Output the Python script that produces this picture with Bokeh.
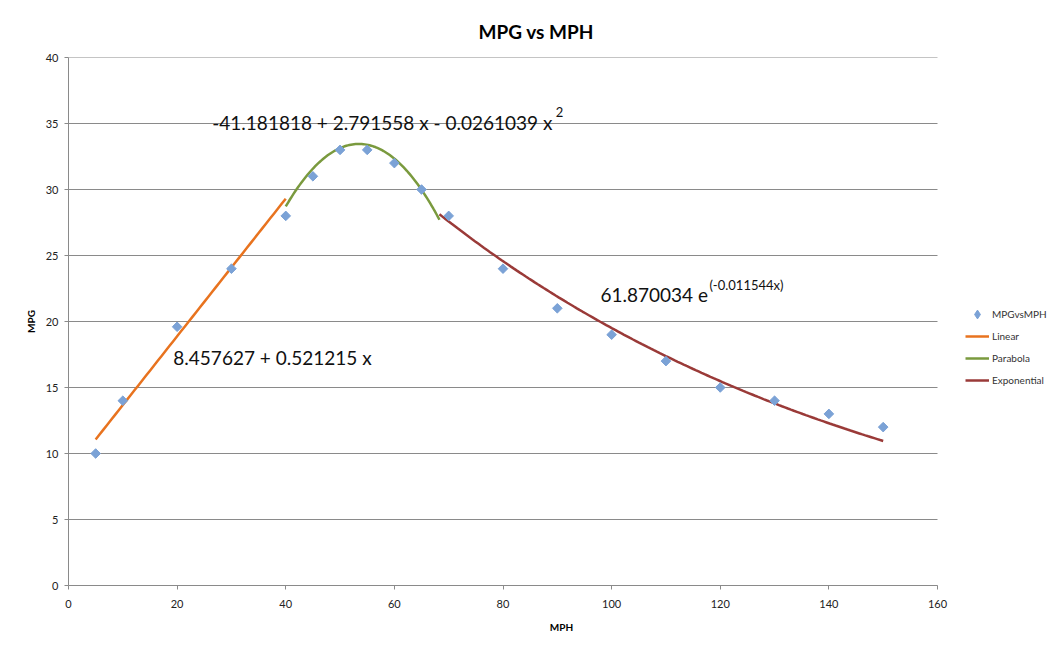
import numpy as np
from bokeh.plotting import figure
from bokeh.models import ColumnDataSource, Label, Legend, LegendItem, Title
from bokeh.embed import file_html
from bokeh.resources import INLINE

# ---- data ----
mph = [5, 10, 20, 30, 40, 45, 50, 55, 60, 65, 70, 80, 90, 100, 110, 120, 130, 140, 150]
mpg = [10, 14, 19.6, 24, 28, 31, 33, 33, 32, 30, 28, 24, 21, 19, 17, 15, 14, 13, 12]

# trendline coefficients (as printed on chart) and their x-ranges
linear_coef = [8.457627, 0.521215]
linear_range = [5, 40]
parab_coef = [-41.181818, 2.791558, -0.0261039]
parab_range = [40, 68.3]
exp_coef = [61.870034, -0.011544]
exp_range = [68.3, 150]

x_ticks = [0, 20, 40, 60, 80, 100, 120, 140, 160]
y_ticks = [0, 5, 10, 15, 20, 25, 30, 35, 40]
x_axis_bounds = (0, 160)

# ---- curves from the printed fit equations ----
xl = np.linspace(linear_range[0], linear_range[1], 50)
yl = linear_coef[0] + linear_coef[1] * xl
xp = np.linspace(parab_range[0], parab_range[1], 100)
yp = parab_coef[0] + parab_coef[1] * xp + parab_coef[2] * xp ** 2
xe = np.linspace(exp_range[0], exp_range[1], 150)
ye = exp_coef[0] * np.exp(exp_coef[1] * xe)

FONT = "Lato"
GRAY = "#8a8a8a"
PT_COLOR = "#7BA2D6"

W, H = 1054, 647
LEFT, RIGHT_AXIS_END = 68, 937
# extend the frame to the right edge so the legend (drawn inside the frame) is visible;
# the axis itself is bounded to 0..160
x_end = x_axis_bounds[1] * (W - LEFT) / (RIGHT_AXIS_END - LEFT)

p = figure(width=W, height=H, output_backend="svg", toolbar_location=None,
           x_range=(0, x_end), y_range=(0, 40),
           min_border_left=LEFT, min_border_right=0, min_border_top=57, min_border_bottom=62,
           outline_line_color=None, background_fill_color="white", border_fill_color="white")

title = Title(text="MPG vs MPH", align="left", offset=410, text_font=FONT,
              text_font_size="19px", text_font_style="bold", text_color="#000000", standoff=30)
p.add_layout(title, "above")

# axes
for ax in (p.xaxis[0], p.yaxis[0]):
    ax.axis_line_color = GRAY
    ax.major_tick_line_color = GRAY
    ax.major_tick_out = 4
    ax.major_tick_in = 0
    ax.minor_tick_line_color = None
    ax.major_label_text_font = FONT
    ax.major_label_text_font_size = "11px"
    ax.major_label_text_color = "#222222"
    ax.axis_label_text_font = FONT
    ax.axis_label_text_font_size = "10px"
    ax.axis_label_text_font_style = "bold"
    ax.axis_label_text_color = "#000000"

p.xaxis.ticker = x_ticks
p.yaxis.ticker = y_ticks
p.xaxis.bounds = x_axis_bounds
p.xaxis.axis_label = "MPH"
p.yaxis.axis_label = "MPG"
p.xaxis.major_label_standoff = 10
p.yaxis.major_label_standoff = 6
p.xaxis.axis_label_standoff = 10
p.yaxis.axis_label_standoff = 6

p.xgrid.grid_line_color = None
p.ygrid.grid_line_color = None

# horizontal gridlines limited to the axis extent
p.segment(x0=[x_axis_bounds[0]] * len(y_ticks), x1=[x_axis_bounds[1]] * len(y_ticks),
          y0=y_ticks, y1=y_ticks, line_color=GRAY, line_width=1)

src = ColumnDataSource(dict(x=mph, y=mpg))
r_lin = p.line(xl, yl, line_color="#E8731F", line_width=2.5)
r_par = p.line(xp, yp, line_color="#7A9A3E", line_width=2.5)
r_exp = p.line(xe, ye, line_color="#9A3A38", line_width=2.5)
# diamond-marker copy of the points (hidden beneath the rotated squares), used as legend key
r_pts_key = p.scatter("x", "y", source=src, marker="diamond", size=8,
                      fill_color=PT_COLOR, line_color=PT_COLOR)
r_pts = p.scatter("x", "y", source=src, marker="square", angle=np.pi / 4, size=6.8,
                  fill_color=PT_COLOR, line_color=PT_COLOR)

legend = Legend(items=[LegendItem(label="MPGvsMPH", renderers=[r_pts_key]),
                       LegendItem(label="Linear", renderers=[r_lin]),
                       LegendItem(label="Parabola", renderers=[r_par]),
                       LegendItem(label="Exponential", renderers=[r_exp])],
                location=(897, 194), orientation="vertical",
                glyph_width=24, glyph_height=22, label_height=22, spacing=0,
                label_standoff=3, padding=0, margin=0,
                border_line_color=None, background_fill_alpha=0,
                label_text_font=FONT, label_text_font_size="10px", label_text_color="#333333")
p.add_layout(legend)

# equation labels (positions in data units)
def lab(x, y, text, size, align="left"):
    p.add_layout(Label(x=x, y=y, text=text, text_font=FONT, text_font_size=size,
                       text_color="#111111", text_baseline="alphabetic", text_align=align))

lab(19.3, 17.3, "8.457627 + 0.521215 x", "19px")
lab(89.1, 35.05, "-41.181818 + 2.791558 x - 0.0261039 x", "19px", "right")
lab(89.7, 35.85, "2", "13px")
lab(97.95, 22.05, "61.870034 e", "19px")
lab(118.0, 22.8, "(-0.011544x)", "13px")

open("out.html", "w").write(file_html(p, INLINE))
